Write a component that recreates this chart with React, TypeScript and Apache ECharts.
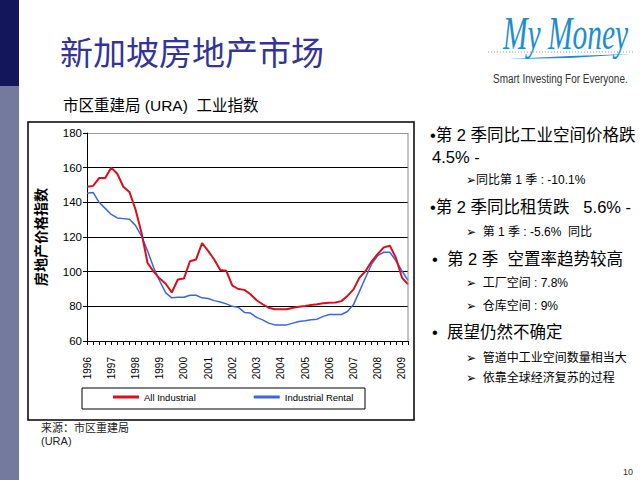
import React, { useEffect, useRef } from "react";
import * as echarts from "echarts";

// ---- data ----
const years = ["1996", "1997", "1998", "1999", "2000", "2001", "2002", "2003", "2004", "2005", "2006", "2007", "2008", "2009"];
const quarterNames = ["Q1", "Q2", "Q3", "Q4"];
const categories: string[] = [];
years.forEach((y) => quarterNames.forEach((q) => categories.push(`${y} ${q}`)));
const quarterCategories = categories.slice(0, 54); // 1996 Q1 .. 2009 Q2

const allIndustrial = [
  149, 149.5, 154, 154, 160, 156.5, 149, 146, 136, 122.5,
  105, 100, 96, 93, 88, 95.5, 96, 106, 107, 116.5,
  112, 107, 101, 100.5, 92, 90, 89.5, 87, 83.5, 81.2,
  79.2, 78.3, 78.3, 78.3, 79.2, 79.8, 80.2, 80.8, 81.2, 81.8,
  82, 82.2, 83, 86, 89.8, 96.6, 100.4, 106, 110.2, 114,
  115, 108, 96.6, 92.7,
];
const industrialRental = [
  145.3, 145.7, 140, 136.5, 133, 131, 130.6, 130.2, 126.7, 120.5,
  112, 102.4, 94.6, 87.8, 84.9, 85.2, 85.2, 86.4, 86.4, 84.9,
  84.5, 83.3, 82.5, 81.4, 80, 79.4, 76.5, 76.1, 73.6, 72.2,
  70.3, 69.3, 69.3, 69.3, 70.3, 71.3, 71.7, 72.2, 72.6, 74.2,
  75.3, 75.3, 75.3, 77, 81, 88.8, 96.6, 104.4, 109.3, 111.2,
  111.2, 106.3, 100.4, 95,
];
const seriesNames = ["All Industrial", "Industrial Rental"];
const yMin = 60;
const yMax = 180;
const yStep = 20;

const bulletLines = [
  { text: "\u2022第 2 季同比工业空间价格跌", x: 430, y: 135, size: 16.5 },
  { text: "4.5% -", x: 432, y: 157, size: 16.5 },
  { text: "\u27A2同比第 1 季 : -10.1%", x: 466, y: 180, size: 12 },
  { text: "\u2022第 2 季同比租赁跌   5.6% -", x: 430, y: 207, size: 16.5 },
  { text: "\u27A2  第 1 季 : -5.6%  同比", x: 466, y: 232, size: 12 },
  { text: "\u2022  第 2 季  空置率趋势较高", x: 432, y: 259, size: 16.5 },
  { text: "\u27A2  工厂空间 : 7.8%", x: 466, y: 283, size: 12 },
  { text: "\u27A2  仓库空间 : 9%", x: 466, y: 306, size: 12 },
  { text: "\u2022  展望仍然不确定", x: 432, y: 332, size: 16.5 },
  { text: "\u27A2  管道中工业空间数量相当大", x: 466, y: 358, size: 12 },
  { text: "\u27A2  依靠全球经济复苏的过程", x: 466, y: 378, size: 12 },
];

const ARIAL = "'Liberation Sans', Arial, sans-serif";
const SANS = "'Liberation Sans', Arial, 'Noto Sans CJK SC', sans-serif";
const CJK = "'Noto Sans CJK SC', sans-serif";

export default function App() {
  const ref = useRef<HTMLDivElement>(null);
  useEffect(() => {
    if (!ref.current) return;
    const chart = echarts.init(ref.current, undefined, { renderer: "svg" });
    const graphic: any[] = [
      { type: "rect", shape: { x: 0, y: 0, width: 19, height: 86 }, style: { fill: "#14165c" } },
      { type: "rect", shape: { x: 0, y: 86, width: 19, height: 394 }, style: { fill: "#737a9d" } },
      {
        type: "text", x: 60, y: 51,
        style: { text: "新加坡房地产市场", fontSize: 33, fontFamily: CJK, fill: "#343497", verticalAlign: "middle" },
      },
      {
        type: "text", x: 63, y: 105,
        style: { text: "市区重建局 (URA)  工业指数", fontSize: 15.5, fontFamily: SANS, fill: "#000", verticalAlign: "middle" },
      },
      // chart frame
      { type: "rect", shape: { x: 28, y: 122, width: 386, height: 298 }, style: { fill: "none", stroke: "#000", lineWidth: 1.5 }, z: 10 },
      // right plot border
      { type: "line", shape: { x1: 408, y1: 133, x2: 408, y2: 341 }, style: { stroke: "#888", lineWidth: 1 }, z: 10 },
      // legend box
      { type: "rect", shape: { x: 82, y: 388, width: 283, height: 21 }, style: { fill: "none", stroke: "#000", lineWidth: 1 }, z: 10 },
      {
        type: "text", x: 41, y: 427,
        style: { text: "来源：市区重建局", fontSize: 11, fontFamily: CJK, fill: "#222", verticalAlign: "middle" },
      },
      {
        type: "text", x: 41, y: 441,
        style: { text: "(URA)", fontSize: 11, fontFamily: SANS, fill: "#222", verticalAlign: "middle" },
      },
      {
        type: "text", x: 628, y: 472,
        style: { text: "10", fontSize: 9, fontFamily: SANS, fill: "#333", align: "center", verticalAlign: "middle" },
      },
      // logo
      {
        type: "text", x: 503, y: 33, scaleY: 1.5, scaleX: 0.95,
        style: { text: "My Money", fontSize: 31, fontStyle: "italic", fontFamily: "'Liberation Serif', serif", fill: "#1e8dd0", verticalAlign: "middle" },
      },
      { type: "line", shape: { x1: 488, y1: 52, x2: 634, y2: 52 }, style: { stroke: "#999", lineWidth: 1, lineDash: [1, 2] } },
      { type: "polygon", shape: { points: [[508, 59], [570, 56], [632, 54], [570, 58]] }, style: { fill: "#1e8dd0" } },
      {
        type: "text", x: 493, y: 78, scaleX: 0.74,
        style: { text: "Smart Investing For Everyone.", fontSize: 13.5, fontFamily: ARIAL, fill: "#333", verticalAlign: "middle" },
      },
      ...bulletLines.map((b) => ({
        type: "text", x: b.x, y: b.y,
        style: { text: b.text, fontSize: b.size, fontFamily: SANS, fill: "#000", verticalAlign: "middle" },
      })),
    ];

    chart.setOption({
      animation: false,
      backgroundColor: "#fff",
      grid: { left: 87, top: 133, width: 321, height: 208, containLabel: false },
      legend: {
        data: seriesNames,
        left: 113, top: 392, icon: "rect", itemWidth: 26, itemHeight: 3, itemGap: 58, padding: 0,
        textStyle: { fontSize: 9.5, fontFamily: ARIAL, color: "#000" },
      },
      xAxis: {
        type: "category",
        data: quarterCategories,
        boundaryGap: false,
        axisLine: { lineStyle: { color: "#000", width: 1 } },
        axisTick: { show: true, interval: 0, length: 4, lineStyle: { color: "#000" } },
        axisLabel: {
          interval: 3, rotate: 90, margin: 16, fontSize: 10, fontFamily: ARIAL, color: "#000",
          formatter: (v: string) => v.slice(0, 4),
        },
        splitLine: { show: false },
      },
      yAxis: {
        type: "value",
        min: yMin, max: yMax, interval: yStep,
        name: "房地产价格指数",
        nameLocation: "middle", nameRotate: 90, nameGap: 40,
        nameTextStyle: { fontSize: 14, fontWeight: "bold", fontFamily: CJK, color: "#000" },
        axisLine: { show: true, lineStyle: { color: "#000", width: 1 } },
        axisTick: { show: true, length: 4, lineStyle: { color: "#000" } },
        axisLabel: { fontSize: 11.5, fontFamily: ARIAL, color: "#000", margin: 5 },
        splitLine: { show: true, lineStyle: { color: ["#000", "#000", "#000", "#000", "#000", "#000", "#999"], width: 1 } },
      },
      series: [
        {
          name: seriesNames[0], type: "line", data: allIndustrial, showSymbol: false,
          lineStyle: { color: "#d9101c", width: 2 }, itemStyle: { color: "#d9101c" }, z: 3,
        },
        {
          name: seriesNames[1], type: "line", data: industrialRental, showSymbol: false,
          lineStyle: { color: "#3c66dc", width: 1.5 }, itemStyle: { color: "#3c66dc" }, z: 2,
        },
      ],
      graphic,
    });
    return () => chart.dispose();
  }, []);
  return <div ref={ref} style={{ position: "fixed", left: 0, top: 0, width: 640, height: 480 }} />;
}
